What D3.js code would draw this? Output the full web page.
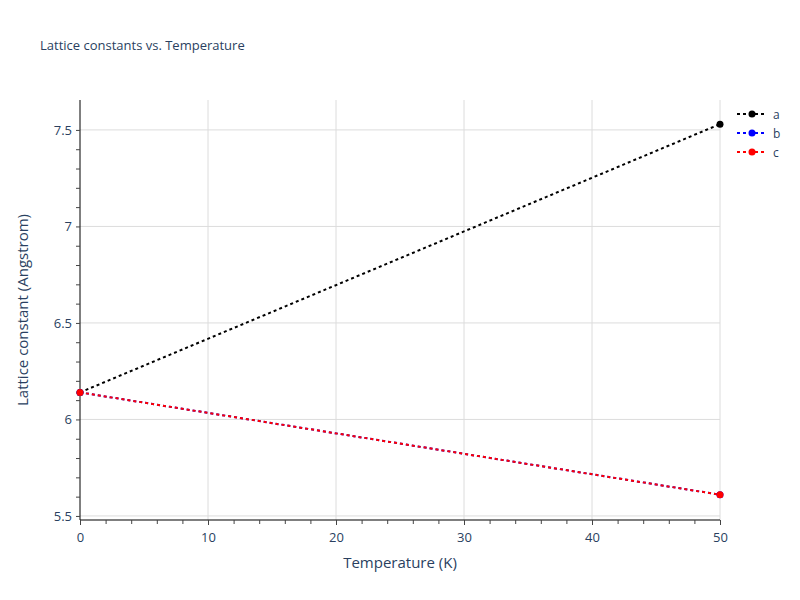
<!DOCTYPE html>
<html>
<head>
<meta charset="utf-8">
<script src="https://cdn.jsdelivr.net/npm/d3@7"></script>
<style>
  body { margin: 0; background: #fff; }
  text { font-family: "Open Sans", sans-serif; }
</style>
</head>
<body>
<div id="chart"></div>
<script>
// Data
var temps = [0, 50];
var aVals = [6.14, 7.53];
var bVals = [6.14, 5.61];
var cVals = [6.14, 5.61];
var seriesNames = ["a", "b", "c"];
var seriesColors = ["#000000", "#0000ff", "#ff0000"];
var xTicks = [0, 10, 20, 30, 40, 50];
var yTicks = [5.5, 6, 6.5, 7, 7.5];

var width = 800,
    height = 600,
    plotL = 80, plotR = 720, plotT = 100, plotB = 520;

var svg = d3.select("#chart")
    .append("svg")
    .attr("width", width)
    .attr("height", height);

var x = d3.scaleLinear().domain([0, 50]).range([plotL, plotR]);
var y = d3.scaleLinear().domain([5.479, 7.655]).range([plotB, plotT]);

// gridlines
svg.selectAll("line.vgrid")
    .data(xTicks.filter(d => d > 0))
    .enter().append("line")
    .attr("x1", d => x(d)).attr("x2", d => x(d))
    .attr("y1", plotT).attr("y2", plotB)
    .attr("stroke", "#dcdcdc").attr("stroke-width", 1);

svg.selectAll("line.hgrid")
    .data(yTicks)
    .enter().append("line")
    .attr("x1", plotL).attr("x2", plotR)
    .attr("y1", d => y(d)).attr("y2", d => y(d))
    .attr("stroke", "#dcdcdc").attr("stroke-width", 1);

// axes
var xAxis = d3.axisBottom(x).tickValues(xTicks).tickSize(5).tickFormat(d3.format("d"));
var xMinor = d3.axisBottom(x).tickValues(d3.range(0, 51, 2)).tickSize(4).tickFormat("");
var yAxis = d3.axisLeft(y).tickValues(yTicks).tickSize(0).tickPadding(8).tickFormat(d => d === 6 || d === 7 ? String(d) : d3.format(".1f")(d));
var yMinor = d3.axisLeft(y).tickValues(d3.range(55, 76, 1).map(d => d / 10)).tickSize(4).tickFormat("");

var gx = svg.append("g").attr("transform", "translate(0," + plotB + ")").call(xAxis);
svg.append("g").attr("transform", "translate(0," + plotB + ")").call(xMinor).select(".domain").remove();
var gy = svg.append("g").attr("transform", "translate(" + plotL + ",0)").call(yAxis);
svg.append("g").attr("transform", "translate(" + plotL + ",0)").call(yMinor).select(".domain").remove();

gx.select(".domain").attr("d", "M" + plotL + ",0H" + plotR).attr("stroke", "#000");
gy.select(".domain").attr("d", "M0," + plotT + "V" + plotB).attr("stroke", "#000");
svg.selectAll(".tick line").attr("stroke", "#444");
svg.selectAll(".tick text").attr("font-size", 13).attr("fill", "#2a3f5f").attr("font-family", "'Open Sans', sans-serif");
gx.selectAll(".tick text").attr("dy", "1.05em");

// titles
svg.append("text").attr("x", 40).attr("y", 50)
    .attr("font-size", 13).attr("fill", "#2a3f5f")
    .text("Lattice constants vs. Temperature");

svg.append("text").attr("x", (plotL + plotR) / 2).attr("y", 568)
    .attr("text-anchor", "middle").attr("font-size", 15).attr("fill", "#2a3f5f")
    .text("Temperature (K)");

svg.append("text")
    .attr("transform", "translate(28," + ((plotT + plotB) / 2) + ") rotate(-90)")
    .attr("text-anchor", "middle").attr("font-size", 15).attr("fill", "#2a3f5f")
    .text("Lattice constant (Angstrom)");

// series
var series = [aVals, bVals, cVals].map((vals, i) => ({
    name: seriesNames[i],
    color: seriesColors[i],
    points: temps.map((t, j) => ({t: t, v: vals[j]}))
}));

var line = d3.line().x(d => x(d.t)).y(d => y(d.v));

svg.selectAll("path.series")
    .data(series)
    .enter().append("path")
    .attr("d", d => line(d.points))
    .attr("fill", "none")
    .attr("stroke", d => d.color)
    .attr("stroke-width", 2)
    .attr("stroke-dasharray", "3,3");

series.forEach(s => {
    svg.selectAll(null)
        .data(s.points)
        .enter().append("circle")
        .attr("cx", d => x(d.t)).attr("cy", d => y(d.v))
        .attr("r", 3.5).attr("fill", s.color);
});

// legend
var legend = svg.selectAll("g.legend")
    .data(series)
    .enter().append("g")
    .attr("transform", (d, i) => "translate(737," + (114 + i * 19) + ")");

legend.append("line")
    .attr("x1", 0).attr("x2", 30).attr("y1", 0).attr("y2", 0)
    .attr("stroke", d => d.color).attr("stroke-width", 2).attr("stroke-dasharray", "3,3");
legend.append("circle").attr("cx", 15).attr("cy", 0).attr("r", 3.5).attr("fill", d => d.color);
legend.append("text").attr("x", 36).attr("y", 4.5)
    .attr("font-size", 12).attr("fill", "#2a3f5f")
    .text(d => d.name);
</script>
</body>
</html>
